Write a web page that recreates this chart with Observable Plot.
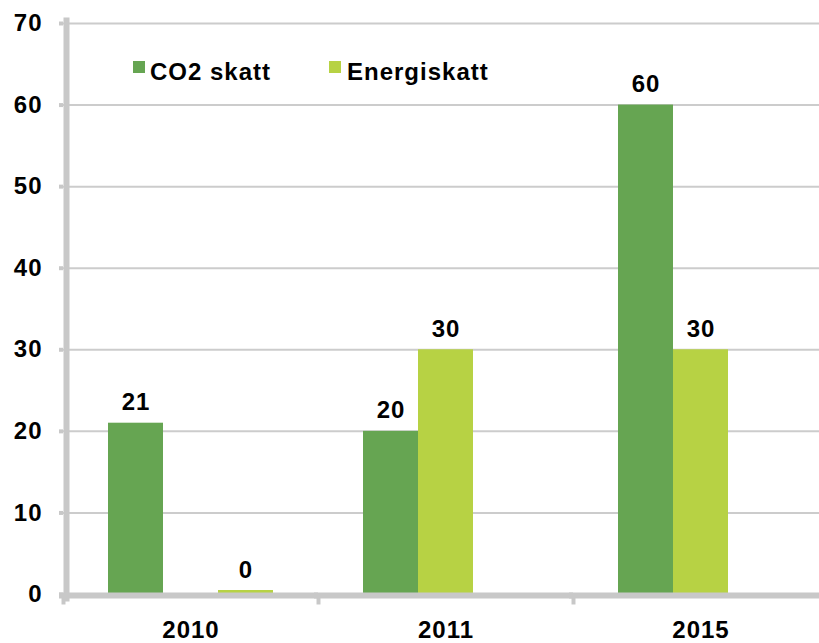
<!DOCTYPE html>
<html><head><meta charset="utf-8">
<script src="https://cdn.jsdelivr.net/npm/d3@7"></script>
<script src="https://cdn.jsdelivr.net/npm/@observablehq/plot@0.6"></script>
<style>
body{margin:0;background:#fff;}
#wrap{position:relative;width:819px;height:643px;overflow:hidden;background:#fff;font-family:"Liberation Sans",Arial,sans-serif;font-weight:bold;font-size:24px;letter-spacing:1px;color:#000;}
#wrap svg{max-width:none !important;}
.sw{position:absolute;width:12px;height:12px;}
.lt{position:absolute;line-height:24px;white-space:nowrap;}
</style></head><body><div id="wrap"></div>
<script>
// Data
const years = ["2010", "2011", "2015"];
const series = ["CO2 skatt", "Energiskatt"];
const co2Values = [21, 20, 60];
const energiValues = [0.49, 30, 30];
// bar slot inside each year group (2010's Energiskatt bar sits in the third slot)
const slots = ["a", "b", "c"];
const co2Slot = ["a", "a", "a"];
const energiSlot = ["c", "b", "b"];
const yTicks = [0, 10, 20, 30, 40, 50, 60, 70];
const colors = ["#66a552", "#b7d244"];
const grey = "#c8c8c8";

const rows = [];
years.forEach((y, i) => {
  rows.push({year: y, series: series[0], slot: co2Slot[i], value: co2Values[i]});
  rows.push({year: y, series: series[1], slot: energiSlot[i], value: energiValues[i]});
});

const plot = Plot.plot({
  width: 829,
  height: 643,
  marginLeft: 62,
  marginRight: 0,
  marginTop: 23,
  marginBottom: 49,
  style: {fontFamily: '"Liberation Sans", Arial, sans-serif', fontWeight: "bold", fontSize: "24px", letterSpacing: "1px", color: "#000", background: "#fff", overflow: "visible", maxWidth: "none"},
  fx: {domain: years, padding: 0, label: null},
  x: {domain: slots, paddingInner: 0, paddingOuter: 0.78, axis: null},
  y: {domain: [0, 70], label: null},
  color: {domain: series, range: colors},
  marks: [
    Plot.gridY(yTicks, {stroke: "#cccccc", strokeOpacity: 1, strokeWidth: 2}),
    Plot.barY(rows, {fx: "year", x: "slot", y: "value", fill: "series"}),
    Plot.text(rows, {fx: "year", x: "slot", y: "value", text: d => String(Math.round(d.value)), lineAnchor: "bottom", dy: -13, fill: "#000", fontSize: 24}),
    Plot.ruleY([0], {stroke: grey, strokeWidth: 6, dy: 1, insetLeft: -4}),
    Plot.frame({anchor: "left", facetAnchor: "left", stroke: grey, strokeWidth: 6, dx: 3, insetTop: -3, insetBottom: -4}),
    Plot.frame({anchor: "left", stroke: grey, strokeWidth: 4, insetTop: 575, insetBottom: -8}),
    Plot.axisY(yTicks, {text: null, tickSize: 4, stroke: grey, strokeWidth: 4}),
    Plot.axisY(yTicks, {tickSize: 0, tickPadding: 21, fill: "#000", fontSize: 24, label: null}),
    Plot.axisFx({anchor: "bottom", tickSize: 0, tickPadding: 26, fill: "#000", fontSize: 24, label: null})
  ]
});

const wrap = document.getElementById("wrap");
wrap.appendChild(plot);
const color = plot.scale("color");
const legendItems = [
  {name: series[0], sx: 133, tx: 150},
  {name: series[1], sx: 329, tx: 347}
];
legendItems.forEach(it => {
  const sw = document.createElement("div");
  sw.className = "sw";
  sw.style.left = it.sx + "px";
  sw.style.top = "61px";
  sw.style.background = color.apply(it.name);
  wrap.appendChild(sw);
  const t = document.createElement("span");
  t.className = "lt";
  t.style.left = it.tx + "px";
  t.style.top = "60px";
  t.textContent = it.name;
  wrap.appendChild(t);
});
</script></body></html>
